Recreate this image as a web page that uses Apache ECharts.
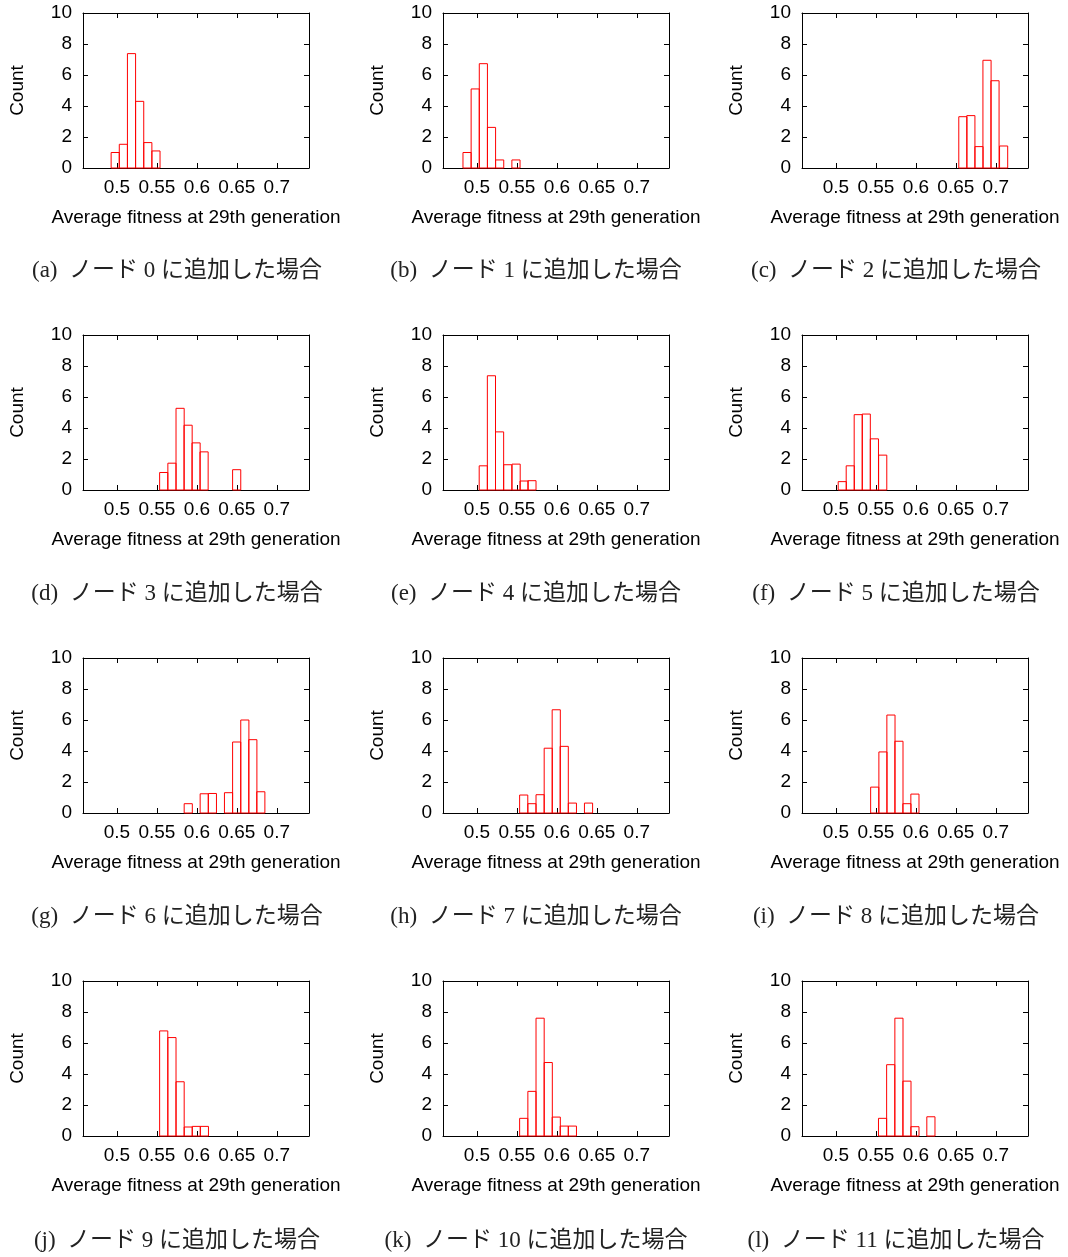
<!DOCTYPE html>
<html>
<head>
<meta charset="utf-8">
<script src="https://cdn.jsdelivr.net/npm/echarts@6/dist/echarts.min.js"></script>
<style>
html,body{margin:0;padding:0;background:#fff;}
#chart{width:1068px;height:1257px;}
</style>
</head>
<body>
<div id="chart"></div>
<script>
// ---- data (bin centres and counts) ----
var bins0 = [0.4978, 0.5080, 0.5182, 0.5284, 0.5386, 0.5488];
var counts0 = [1.0, 1.53, 7.38, 4.3, 1.64, 1.1];
var bins1 = [0.4876, 0.4978, 0.5080, 0.5182, 0.5284, 0.5488];
var counts1 = [1.0, 5.1, 6.73, 2.62, 0.52, 0.52];
var bins2 = [0.6588, 0.6688, 0.6790, 0.6890, 0.6990, 0.7098];
var counts2 = [3.31, 3.38, 1.38, 6.95, 5.63, 1.42];
var bins3 = [0.5585, 0.5688, 0.5790, 0.5890, 0.5990, 0.6090, 0.6498];
var counts3 = [1.13, 1.73, 5.27, 4.18, 3.04, 2.46, 1.31];
var bins4 = [0.5079, 0.5181, 0.5283, 0.5385, 0.5490, 0.5590, 0.5688];
var counts4 = [1.56, 7.37, 3.75, 1.63, 1.67, 0.58, 0.6];
var bins5 = [0.5079, 0.5179, 0.5279, 0.5379, 0.5481, 0.5585];
var counts5 = [0.54, 1.56, 4.86, 4.9, 3.3, 2.25];
var bins6 = [0.5892, 0.6092, 0.6194, 0.6396, 0.6498, 0.6600, 0.6700, 0.6800];
var counts6 = [0.6, 1.24, 1.26, 1.31, 4.58, 6.0, 4.73, 1.37];
var bins7 = [0.5585, 0.5688, 0.5790, 0.5892, 0.5992, 0.6092, 0.6194, 0.6396];
var counts7 = [1.16, 0.6, 1.18, 4.18, 6.66, 4.3, 0.64, 0.64];
var bins8 = [0.5485, 0.5588, 0.5688, 0.5788, 0.5888, 0.5988];
var counts8 = [1.67, 3.94, 6.32, 4.63, 0.6, 1.22];
var bins9 = [0.5585, 0.5688, 0.5790, 0.5892, 0.5992, 0.6094];
var counts9 = [6.78, 6.35, 3.5, 0.58, 0.62, 0.62];
var bins10 = [0.5585, 0.5688, 0.5790, 0.5892, 0.5992, 0.6092, 0.6194];
var counts10 = [1.14, 2.88, 7.6, 4.74, 1.22, 0.64, 0.64];
var bins11 = [0.5583, 0.5685, 0.5788, 0.5888, 0.5988, 0.6188];
var counts11 = [1.14, 4.6, 7.6, 3.54, 0.6, 1.24];

var binWidth = 0.0102;
var xTicks = [0.5, 0.55, 0.6, 0.65, 0.7];
var xTickLabels = ['0.5', '0.55', '0.6', '0.65', '0.7'];
var xName = 'Average fitness at 29th generation';
var yName = 'Count';
var captionLetters = ['a','b','c','d','e','f','g','h','i','j','k','l'];
var nodeNames = ['0','1','2','3','4','5','6','7','8','9','10','11'];

var allBins = [bins0,bins1,bins2,bins3,bins4,bins5,bins6,bins7,bins8,bins9,bins10,bins11];
var allCounts = [counts0,counts1,counts2,counts3,counts4,counts5,counts6,counts7,counts8,counts9,counts10,counts11];

// ---- layout ----
var colLeft = [83, 443, 802];
var rowTop = [13, 335, 658, 981];
var plotW = 226, plotH = 155;
var capX = [177, 536, 896];
var capY = [271, 594, 917, 1241];
var XMIN = 0.4575, XMAX = 0.7403;

var sansFont = '"Liberation Sans", Arial, Helvetica, sans-serif';
var capFont = '"Liberation Serif", "Noto Sans CJK JP", serif';

var grids = [], xAxes = [], yAxes = [], series = [], graphics = [];

for (var i = 0; i < 12; i++) {
  var c = i % 3, r = Math.floor(i / 3);
  grids.push({left: colLeft[c], top: rowTop[r], width: plotW, height: plotH, containLabel: false});
  var axLine = {show: true, onZero: false, lineStyle: {color: '#000', width: 1}};
  // bottom x axis (labels)
  xAxes.push({
    type: 'value', gridIndex: i, position: 'bottom', min: XMIN, max: XMAX,
    axisLine: axLine,
    axisTick: {show: true, inside: true, length: 5, customValues: xTicks, lineStyle: {color: '#000'}},
    axisLabel: {show: true, customValues: xTicks, margin: 10, fontSize: 19, color: '#000', fontFamily: sansFont,
      formatter: function (v) { var k = xTicks.indexOf(v); return k >= 0 ? xTickLabels[k] : ''; }},
    splitLine: {show: false},
    name: xName, nameLocation: 'middle', nameGap: 40,
    nameTextStyle: {fontSize: 19, color: '#000', fontFamily: sansFont}
  });
  // top mirror axis
  xAxes.push({
    type: 'value', gridIndex: i, position: 'top', min: XMIN, max: XMAX,
    axisLine: axLine,
    axisTick: {show: true, inside: true, length: 5, customValues: xTicks, lineStyle: {color: '#000'}},
    axisLabel: {show: false}, splitLine: {show: false}
  });
  // left y axis
  yAxes.push({
    type: 'value', gridIndex: i, position: 'left', min: 0, max: 10, interval: 2,
    axisLine: axLine,
    axisTick: {show: true, inside: true, length: 5, lineStyle: {color: '#000'}},
    axisLabel: {show: true, margin: 11, fontSize: 19, color: '#000', fontFamily: sansFont},
    splitLine: {show: false},
    name: yName, nameLocation: 'middle', nameGap: 56, nameRotate: 90,
    nameTextStyle: {fontSize: 19, color: '#000', fontFamily: sansFont}
  });
  // right mirror axis
  yAxes.push({
    type: 'value', gridIndex: i, position: 'right', min: 0, max: 10, interval: 2,
    axisLine: axLine,
    axisTick: {show: true, inside: true, length: 5, lineStyle: {color: '#000'}},
    axisLabel: {show: false}, splitLine: {show: false}
  });

  var data = allBins[i].map(function (b, k) { return [b, allCounts[i][k]]; });
  series.push({
    type: 'custom', xAxisIndex: 2 * i, yAxisIndex: 2 * i, data: data, silent: true,
    renderItem: function (params, api) {
      var x = api.value(0), y = api.value(1);
      var p0 = api.coord([x - binWidth / 2, y]);
      var p1 = api.coord([x + binWidth / 2, 0]);
      return {type: 'rect',
        shape: {x: p0[0], y: p0[1], width: p1[0] - p0[0], height: p1[1] - p0[1]},
        style: {fill: 'none', stroke: '#ff0000', lineWidth: 1}};
    }
  });

  graphics.push({
    type: 'text', x: capX[c], y: capY[r],
    style: {
      text: '(' + captionLetters[i] + ')  ノード ' + nodeNames[i] + ' に追加した場合',
      font: '23px ' + capFont, fill: '#222', align: 'center', verticalAlign: 'middle'
    }
  });
}

var chart = echarts.init(document.getElementById('chart'), null, {renderer: 'canvas'});
chart.setOption({
  backgroundColor: '#fff',
  animation: false,
  grid: grids,
  xAxis: xAxes,
  yAxis: yAxes,
  series: series,
  graphic: graphics
});
</script>
</body>
</html>
